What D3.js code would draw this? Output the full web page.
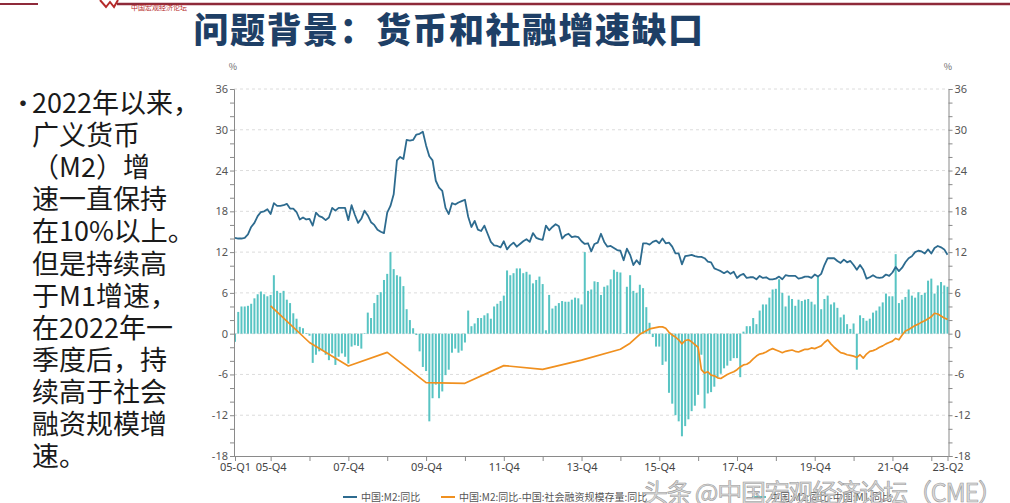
<!DOCTYPE html>
<html><head><meta charset="utf-8">
<script src="https://cdn.jsdelivr.net/npm/d3@7"></script>
<style>
html,body{margin:0;padding:0;background:#fff;}
svg{display:block;font-family:"Noto Sans CJK SC","Noto Sans",sans-serif;}
</style></head>
<body>
<svg id="c" width="1010" height="503"></svg>
<script>
// ---------------- data (monthly, Jan 2005 – May 2023) ----------------
const startYear = 2005;
// 中国:M2:同比 (%)
const m2 = [
14.1,14.0,14.0,14.1,14.6,15.7,16.3,17.3,17.9,18.0,18.3,17.6,
19.2,18.8,18.8,18.9,19.1,18.4,18.4,17.9,16.8,17.1,16.8,16.9,
15.9,17.8,17.3,17.1,16.7,17.1,18.5,18.1,18.5,18.5,18.5,16.7,
18.9,17.5,16.3,16.9,18.1,17.4,16.4,16.0,15.3,15.0,14.8,17.8,
18.8,20.5,25.5,26.0,25.7,28.5,28.4,28.5,29.3,29.4,29.7,27.7,
26.1,25.5,22.5,21.5,21.0,18.5,17.6,19.2,19.0,19.3,19.5,19.7,
17.2,15.7,16.6,15.3,15.1,15.9,14.7,13.5,13.0,12.9,12.7,13.6,
12.4,13.0,13.4,12.8,13.2,13.6,13.9,13.5,14.8,14.1,13.9,13.8,
15.9,15.2,15.7,16.1,15.8,14.0,14.5,14.7,14.2,14.3,14.2,13.6,
13.2,13.3,12.1,13.2,13.4,14.7,13.5,12.8,12.9,12.6,12.3,12.2,
10.8,12.5,11.6,10.1,10.8,10.2,13.3,13.3,13.1,13.5,13.7,13.3,
14.0,13.3,13.4,12.8,11.8,11.8,10.2,11.4,11.5,11.6,11.4,11.3,
11.3,11.1,10.6,10.5,9.6,9.4,9.2,8.9,9.2,8.8,9.1,8.2,
8.6,8.8,8.2,8.3,8.3,8.0,8.5,8.2,8.3,8.0,8.0,8.1,
8.4,8.0,8.6,8.5,8.5,8.5,8.1,8.2,8.4,8.4,8.2,8.7,
8.4,8.8,10.1,11.1,11.1,11.1,10.7,10.4,10.9,10.5,10.7,10.1,
9.4,10.1,9.4,8.1,8.3,8.6,8.3,8.2,8.3,8.7,8.5,9.0,
9.8,9.2,9.7,10.5,11.1,11.4,12.0,12.2,12.1,11.8,12.4,11.8,
12.6,12.9,12.7,12.4,11.6
];
// 中国:M2:同比-中国:M1:同比 (%), bars
const gapM1 = [
-1.2,3.2,4.0,4.0,4.1,4.4,5.2,5.8,6.2,5.8,5.5,5.7,
8.6,6.3,6.0,6.3,5.0,4.5,3.0,2.2,1.0,0.8,0.1,-0.3,
-4.3,-3.1,-2.6,-2.4,-3.1,-3.9,-2.9,-4.6,-3.4,-2.9,-3.4,-4.4,
-1.9,-1.7,-1.8,-2.2,0.1,3.1,2.3,4.5,5.7,6.1,7.9,8.8,
12.0,9.5,8.6,8.4,7.0,3.6,2.0,0.8,-0.2,-2.6,-4.9,-5.5,
-12.9,-9.5,-7.5,-9.5,-8.5,-6.1,-5.3,-2.8,-2.2,-2.8,-2.5,-1.3,
3.4,1.1,1.5,2.3,2.3,2.7,3.0,2.2,4.0,4.4,4.8,5.6,
9.3,8.6,8.9,9.6,9.6,8.9,9.1,8.7,7.4,7.9,8.4,7.3,
0.5,5.7,3.7,4.1,4.5,4.8,4.7,4.7,5.0,5.3,5.2,4.3,
12.0,6.3,6.5,7.7,7.6,5.7,6.9,7.1,8.0,9.4,9.1,9.0,
0.1,6.9,8.6,6.3,6.0,7.2,6.7,3.9,1.6,-0.5,-1.9,-1.9,
-4.6,-4.1,-8.7,-10.3,-12.0,-12.9,-15.1,-13.6,-12.6,-11.4,-10.6,-9.0,
-3.1,-11.0,-8.8,-8.6,-7.8,-6.4,-5.9,-5.1,-4.7,-4.0,-3.6,-3.6,
-6.4,0.3,1.1,1.1,2.3,1.4,3.4,4.3,4.3,5.3,6.5,6.6,
8.0,6.0,4.0,5.6,5.1,4.1,5.0,4.8,5.0,5.1,4.7,4.3,
8.4,3.6,5.1,5.6,4.3,4.6,3.8,2.4,2.8,1.4,0.7,1.5,
-5.3,2.7,2.3,1.9,2.2,3.1,3.4,4.0,4.6,5.9,5.5,5.5,
11.7,4.5,5.0,5.4,6.5,5.6,5.3,6.1,5.7,6.0,7.8,8.1,
5.9,7.1,7.6,7.1,6.9
];
// 中国:M2:同比-中国:社会融资规模存量:同比 (%): [month index, value]
const tsfMonths = [11,23,35,47,59,71,83,95,107,119,122,125,128,131,
132,133,134,135,136,137,138,139,140,141,142,143,
144,145,146,147,148,149,150,151,152,153,154,155,
156,157,158,159,160,161,162,163,164,165,166,167,
168,169,170,171,172,173,174,175,176,177,178,179,
180,181,182,183,184,185,186,187,188,189,190,191,
192,193,194,195,196,197,198,199,200,201,202,203,
204,205,206,207,208,209,210,211,212,213,214,215,
216,217,218,219,220];
const tsfGap = [4.1,-1.3,-4.75,-2.75,-7.2,-7.3,-4.7,-5.25,-3.9,-2.3,-1.4,-0.1,0.7,1.0,
1.0,0.8,0.2,-0.2,-0.5,-0.9,-1.5,-1.0,-0.9,-1.2,-1.6,-2.0,
-5.3,-5.8,-5.6,-6.1,-6.2,-6.5,-6.6,-6.3,-6.0,-5.8,-5.6,-5.3,
-4.9,-4.6,-4.5,-4.2,-3.7,-3.3,-3.0,-2.9,-2.7,-2.4,-2.2,-2.4,
-2.6,-2.8,-2.6,-2.5,-2.4,-2.6,-2.7,-2.5,-2.3,-2.3,-2.1,-2.2,
-2.0,-1.8,-1.3,-0.9,-1.5,-2.0,-2.4,-2.8,-2.9,-3.1,-3.2,-3.3,
-3.5,-3.1,-3.6,-3.0,-2.6,-2.5,-2.3,-2.0,-1.8,-1.5,-1.3,-1.1,
-0.7,-0.9,-0.2,0.4,0.6,0.9,1.2,1.4,1.7,1.9,2.2,2.5,
3.0,2.9,2.6,2.3,2.1];
// x-axis ticks (month index) and labels
const xTickMonths = [0,11,23,35,47,59,71,83,95,107,119,131,143,155,167,179,191,203,215,220];
const xTickLabels = {0:"05-Q1",11:"05-Q4",35:"07-Q4",59:"09-Q4",83:"11-Q4",107:"13-Q4",131:"15-Q4",155:"17-Q4",179:"19-Q4",203:"21-Q4",220:"23-Q2"};
const yMajor = [-18,-12,-6,0,6,12,18,24,30,36];
const textLines = ["2022年以来，","广义货币","（M2）增","速一直保持","在10%以上。","但是持续高","于M1增速，","在2022年一","季度后，持","续高于社会","融资规模增","速。"];
const legendLabels = ["中国:M2:同比","中国:M2:同比-中国:社会融资规模存量:同比","中国:M2:同比-中国:M1:同比"];

// ---------------- drawing ----------------
const svg = d3.select("#c");
const W = 1010, H = 503;
svg.append("rect").attr("width",W).attr("height",H).attr("fill","#fff");

// header decoration
svg.append("line").attr("x1",0).attr("x2",38).attr("y1",4).attr("y2",4).attr("stroke","#8e2a3a").attr("stroke-width",2);
svg.append("line").attr("x1",117).attr("x2",W).attr("y1",4).attr("y2",4).attr("stroke","#8e2a3a").attr("stroke-width",2.5);
svg.append("path").attr("d","M100,0 L106,7 L110,2 L114,7 L118,0").attr("fill","none").attr("stroke","#b52a2a").attr("stroke-width",2);
svg.append("text").attr("x",131).attr("y",10).attr("font-size",7).attr("fill","#b52a2a").text("中国宏观经济论坛");

// title
svg.append("text").attr("x",449).attr("y",43).attr("text-anchor","middle")
  .attr("font-size",35).attr("font-weight",900).attr("fill","#1e3f66").attr("letter-spacing",1.5)
  .attr("font-family","'Noto Sans CJK SC',sans-serif").text("问题背景：货币和社融增速缺口");

// left text (single text block, one tspan per line)
svg.append("text").attr("x",10).attr("y",113).attr("font-size",26).attr("fill","#222").text("•");
const body = svg.append("text").attr("font-size",27).attr("fill","#1a1a1a")
  .attr("font-family","'Noto Sans CJK SC',sans-serif");
body.selectAll("tspan").data(textLines).enter().append("tspan")
  .attr("x",32).attr("y",(d,i)=>113+i*32.1).text(d=>d);

// scales
const x = d3.scaleLinear().domain([0,220]).range([235,947.5]);
const y = d3.scaleLinear().domain([-18,36]).range([456,89]);
const xL = 234, xR = 948.5;

// gridlines
svg.append("g").selectAll("line").data(yMajor.filter(v=>v>-18)).enter().append("line")
  .attr("x1",xL).attr("x2",xR).attr("y1",d=>y(d)).attr("y2",d=>y(d))
  .attr("stroke","#dcdcdc").attr("stroke-dasharray","3,3").attr("stroke-width",1);

// bars
const bw = 2;
svg.append("g").selectAll("rect").data(gapM1).enter().append("rect")
  .attr("x",(d,i)=>x(i)-bw/2).attr("width",bw)
  .attr("y",d=>Math.min(y(d),y(0))).attr("height",d=>Math.abs(y(d)-y(0)))
  .attr("fill","#58c4c3");

// M2 line
svg.append("path").datum(m2).attr("fill","none").attr("stroke","#2d6b8f").attr("stroke-width",1.8)
  .attr("stroke-linejoin","round")
  .attr("d",d3.line().x((d,i)=>x(i)).y(d=>y(d)));

// TSF gap line
const tsf = tsfMonths.map((m,i)=>[m,tsfGap[i]]);
svg.append("path").datum(tsf).attr("fill","none").attr("stroke","#f0901f").attr("stroke-width",1.7)
  .attr("stroke-linejoin","round")
  .attr("d",d3.line().x(d=>x(d[0])).y(d=>y(d[1])));

// axes
const axisColor = "#8a8a8a", labColor = "#555";
const yAll = d3.range(-18,37,2);
const yl = d3.axisLeft(y).tickValues(yAll).tickSize(4).tickFormat(d=>d%6===0?d:"");
const gL = svg.append("g").attr("transform",`translate(${xL},0)`).call(yl);
const yr = d3.axisRight(y).tickValues(yAll).tickSize(4).tickFormat(d=>d%6===0?d:"");
const gR = svg.append("g").attr("transform",`translate(${xR},0)`).call(yr);
[gL,gR].forEach(g=>{
  g.select(".domain").attr("stroke",axisColor);
  g.selectAll(".tick line").attr("stroke",axisColor);
  g.selectAll(".tick text").attr("fill",labColor).attr("font-size",11).attr("font-family","'Noto Sans',sans-serif");
});
gL.selectAll(".tick text").attr("x",-6);
gR.selectAll(".tick text").attr("x",6);

const xa = d3.axisBottom(x).tickValues(xTickMonths).tickSize(5).tickFormat(d=>xTickLabels[d]||"");
const gX = svg.append("g").attr("transform",`translate(0,456)`).call(xa);
gX.select(".domain").attr("stroke",axisColor).attr("d",`M${xL},0.5H${xR}`);
gX.selectAll(".tick line").attr("stroke",axisColor);
gX.selectAll(".tick text").attr("fill","#444").attr("font-size",11).attr("y",7).attr("font-family","'Noto Sans',sans-serif");

// % units
svg.append("text").attr("x",233).attr("y",70).attr("text-anchor","middle").attr("font-size",9).attr("fill","#666").text("%");
svg.append("text").attr("x",948).attr("y",70).attr("text-anchor","middle").attr("font-size",9).attr("fill","#666").text("%");

// legend
const lg = svg.append("g").attr("font-size",10).attr("fill","#555");
const legendX = [343,441,752];
const legendCol = ["#2d6b8f","#f0901f","#58c4c3"];
legendLabels.forEach((t,i)=>{
  lg.append("line").attr("x1",legendX[i]).attr("x2",legendX[i]+14).attr("y1",497).attr("y2",497)
    .attr("stroke",legendCol[i]).attr("stroke-width",2);
  lg.append("text").attr("x",legendX[i]+18).attr("y",501).attr("fill","#555").text(t);
});

// watermark
svg.append("text").attr("x",643).attr("y",502).attr("font-size",25)
  .attr("textLength",360).attr("lengthAdjust","spacing")
  .attr("fill","#d4d4d4").attr("fill-opacity",0.85).attr("stroke","#9a9a9a").attr("stroke-width",0.6)
  .text("头条 @中国宏观经济论坛（CME）");
</script>
</body></html>
